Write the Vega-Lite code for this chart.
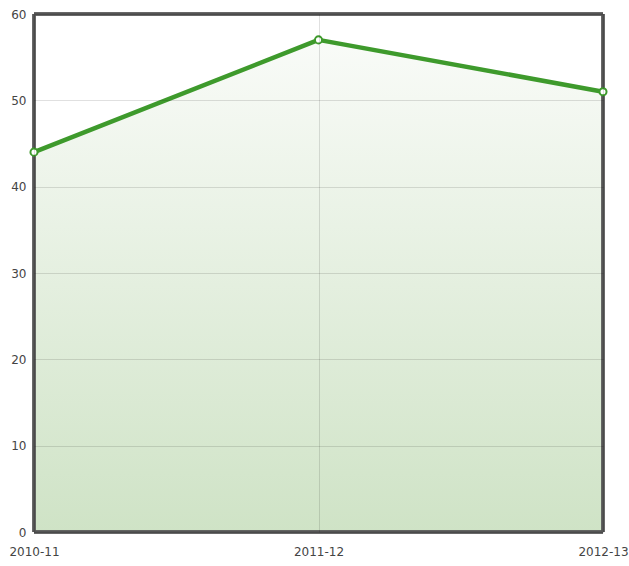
{
  "$schema": "https://vega.github.io/schema/vega-lite/v6.json",
  "autosize": "none",
  "width": 569,
  "height": 518,
  "padding": {"left": 34, "top": 14, "right": 26, "bottom": 34},
  "background": "white",
  "config": {
    "view": {"stroke": null},
    "font": "DejaVu Sans",
    "axis": {"labelFont": "DejaVu Sans", "labelFontSize": 12, "labelColor": "#444444", "domain": false, "ticks": false, "gridColor": "#000000", "gridOpacity": 0.12, "gridWidth": 1}
  },
  "data": {"values": [
    {"year": "2010-11", "value": 44},
    {"year": "2011-12", "value": 57},
    {"year": "2012-13", "value": 51}
  ]},
  "encoding": {
    "x": {"field": "year", "type": "ordinal", "scale": {"type": "point", "padding": 0}, "sort": null,
      "axis": {"title": null, "labelAngle": 0, "labelPadding": 14, "grid": true, "zindex": 1}},
    "y": {"field": "value", "type": "quantitative", "scale": {"domain": [0, 60], "nice": false},
      "axis": {"title": null, "values": [0, 10, 20, 30, 40, 50, 60], "labelPadding": 8, "grid": true, "zindex": 1}}
  },
  "layer": [
    {"mark": {"type": "area", "color": {"gradient": "linear", "x1": 0, "y1": 0, "x2": 0, "y2": 1,
      "stops": [{"offset": 0, "color": "#f9fbf8"}, {"offset": 1, "color": "#cfe3c6"}]}}},
    {"mark": {"type": "rule", "color": "#555555", "strokeWidth": 3}, "encoding": {"y": {"datum": 60}, "x": null}},
    {"mark": {"type": "rule", "color": "#555555", "strokeWidth": 3}, "encoding": {"y": {"datum": 0}, "x": null}},
    {"mark": {"type": "rule", "color": "#555555", "strokeWidth": 3}, "encoding": {"x": {"datum": "2010-11"}, "y": null}},
    {"mark": {"type": "rule", "color": "#555555", "strokeWidth": 3}, "encoding": {"x": {"datum": "2012-13"}, "y": null}},
    {"mark": {"type": "line", "color": "#3e9a2c", "strokeWidth": 4.5, "strokeJoin": "round"}},
    {"mark": {"type": "point", "filled": true, "fill": "white", "stroke": "#3e9a2c", "strokeWidth": 2, "size": 50, "opacity": 1}}
  ]
}
